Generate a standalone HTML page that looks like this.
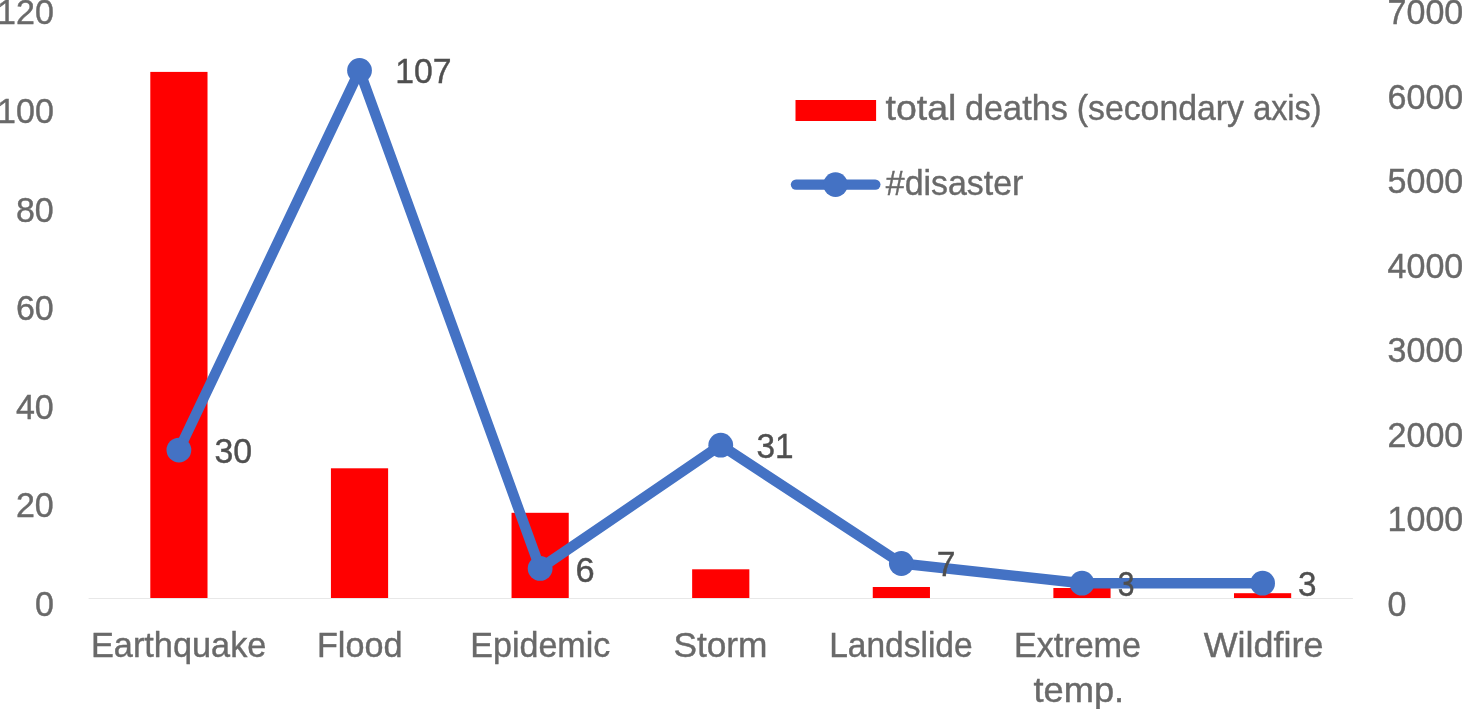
<!DOCTYPE html>
<html lang="en">
<head>
<meta charset="utf-8">
<title>Disasters and total deaths</title>
<style>
html,body{margin:0;padding:0;background:#fff;}
body{width:1462px;height:709px;overflow:hidden;}
svg{display:block;}
text{font-family:"Liberation Sans",sans-serif;font-size:34.5px;}
.g{fill:#696969;stroke:#696969;stroke-width:0.4px;}
.d{fill:#4f4f4f;stroke:#4f4f4f;stroke-width:0.4px;}
</style>
</head>
<body>
<svg width="1462" height="709" viewBox="0 0 1462 709">
<rect x="0" y="0" width="1462" height="709" fill="#ffffff"/>
<g fill="#ff0000">
<rect x="150.31" y="71.90" width="57.20" height="526.10"/>
<rect x="330.92" y="468.30" width="57.20" height="129.70"/>
<rect x="511.54" y="512.80" width="57.20" height="85.20"/>
<rect x="692.15" y="569.30" width="57.20" height="28.70"/>
<rect x="872.76" y="587.00" width="57.20" height="11.00"/>
<rect x="1053.38" y="588.00" width="57.20" height="10.00"/>
<rect x="1233.99" y="593.20" width="57.20" height="4.80"/>
</g>
<line x1="88.60" y1="598.5" x2="1352.90" y2="598.5" stroke="#e8e8e8" stroke-width="1"/>
<polyline points="178.91,450.10 359.52,70.49 540.14,568.42 720.75,445.17 901.36,563.49 1081.98,583.21 1262.59,583.21" fill="none" stroke="#4472c4" stroke-width="10.4" stroke-linejoin="round" stroke-linecap="round"/>
<g fill="#4472c4">
<circle cx="178.91" cy="450.10" r="12.4"/>
<circle cx="359.52" cy="70.49" r="12.4"/>
<circle cx="540.14" cy="568.42" r="12.4"/>
<circle cx="720.75" cy="445.17" r="12.4"/>
<circle cx="901.36" cy="563.49" r="12.4"/>
<circle cx="1081.98" cy="583.21" r="12.4"/>
<circle cx="1262.59" cy="583.21" r="12.4"/>
</g>
<rect x="795.5" y="100" width="80.6" height="21" fill="#ff0000"/>
<line x1="796" y1="184.6" x2="875.3" y2="184.6" stroke="#4472c4" stroke-width="10.4" stroke-linecap="round"/>
<circle cx="835.5" cy="184.6" r="12.3" fill="#4472c4"/>
<text class="g" x="90.95" y="656.90" textLength="175.50" lengthAdjust="spacingAndGlyphs">Earthquake</text>
<text class="g" x="316.95" y="656.90" textLength="85.57" lengthAdjust="spacingAndGlyphs">Flood</text>
<text class="g" x="470.25" y="656.90" textLength="140.01" lengthAdjust="spacingAndGlyphs">Epidemic</text>
<text class="g" x="673.45" y="656.90" textLength="94.05" lengthAdjust="spacingAndGlyphs">Storm</text>
<text class="g" x="829.25" y="656.90" textLength="143.33" lengthAdjust="spacingAndGlyphs">Landslide</text>
<text class="g" x="1013.95" y="656.90" textLength="127.11" lengthAdjust="spacingAndGlyphs">Extreme</text>
<text class="g" x="1033.50" y="702.40" textLength="90.68" lengthAdjust="spacingAndGlyphs">temp.</text>
<text class="g" x="1203.65" y="656.90" textLength="119.74" lengthAdjust="spacingAndGlyphs">Wildfire</text>
<text class="g" x="885.85" y="194.80" textLength="137.54" lengthAdjust="spacingAndGlyphs">#disaster</text>
<text class="g" y="120.00"><tspan x="885.50" textLength="70.96" lengthAdjust="spacingAndGlyphs">total</tspan> <tspan x="965.00" textLength="102.87" lengthAdjust="spacingAndGlyphs">deaths</tspan> <tspan x="1076.80" textLength="167.12" lengthAdjust="spacingAndGlyphs">(secondary</tspan> <tspan x="1253.15" textLength="68.43" lengthAdjust="spacingAndGlyphs">axis)</tspan></text>
<text class="g" x="34.88" y="615.90" textLength="18.92" lengthAdjust="spacingAndGlyphs">0</text>
<text class="g" x="15.96" y="517.30" textLength="37.84" lengthAdjust="spacingAndGlyphs">20</text>
<text class="g" x="15.96" y="418.70" textLength="37.84" lengthAdjust="spacingAndGlyphs">40</text>
<text class="g" x="15.96" y="320.10" textLength="37.84" lengthAdjust="spacingAndGlyphs">60</text>
<text class="g" x="15.96" y="221.50" textLength="37.84" lengthAdjust="spacingAndGlyphs">80</text>
<text class="g" x="-2.96" y="122.90" textLength="56.76" lengthAdjust="spacingAndGlyphs">100</text>
<text class="g" x="-2.96" y="24.30" textLength="56.76" lengthAdjust="spacingAndGlyphs">120</text>
<text class="g" x="1387.6" y="616.00" textLength="18.92" lengthAdjust="spacingAndGlyphs">0</text>
<text class="g" x="1387.6" y="531.45" textLength="75.68" lengthAdjust="spacingAndGlyphs">1000</text>
<text class="g" x="1387.6" y="446.90" textLength="75.68" lengthAdjust="spacingAndGlyphs">2000</text>
<text class="g" x="1387.6" y="362.35" textLength="75.68" lengthAdjust="spacingAndGlyphs">3000</text>
<text class="g" x="1387.6" y="277.80" textLength="75.68" lengthAdjust="spacingAndGlyphs">4000</text>
<text class="g" x="1387.6" y="193.25" textLength="75.68" lengthAdjust="spacingAndGlyphs">5000</text>
<text class="g" x="1387.6" y="108.70" textLength="75.68" lengthAdjust="spacingAndGlyphs">6000</text>
<text class="g" x="1387.6" y="24.15" textLength="75.68" lengthAdjust="spacingAndGlyphs">7000</text>
<text class="d" x="214.45" y="463.00" textLength="37.68" lengthAdjust="spacingAndGlyphs">30</text>
<text class="d" x="395.20" y="83.00" textLength="56.37" lengthAdjust="spacingAndGlyphs">107</text>
<text class="d" x="575.45" y="581.50" textLength="19.13" lengthAdjust="spacingAndGlyphs">6</text>
<text class="d" x="756.55" y="458.30" textLength="37.13" lengthAdjust="spacingAndGlyphs">31</text>
<text class="d" x="936.65" y="576.30" textLength="18.70" lengthAdjust="spacingAndGlyphs">7</text>
<text class="d" x="1117.75" y="596.30" textLength="16.75" lengthAdjust="spacingAndGlyphs">3</text>
<text class="d" x="1297.95" y="596.30" textLength="18.49" lengthAdjust="spacingAndGlyphs">3</text>
</svg>
</body>
</html>
